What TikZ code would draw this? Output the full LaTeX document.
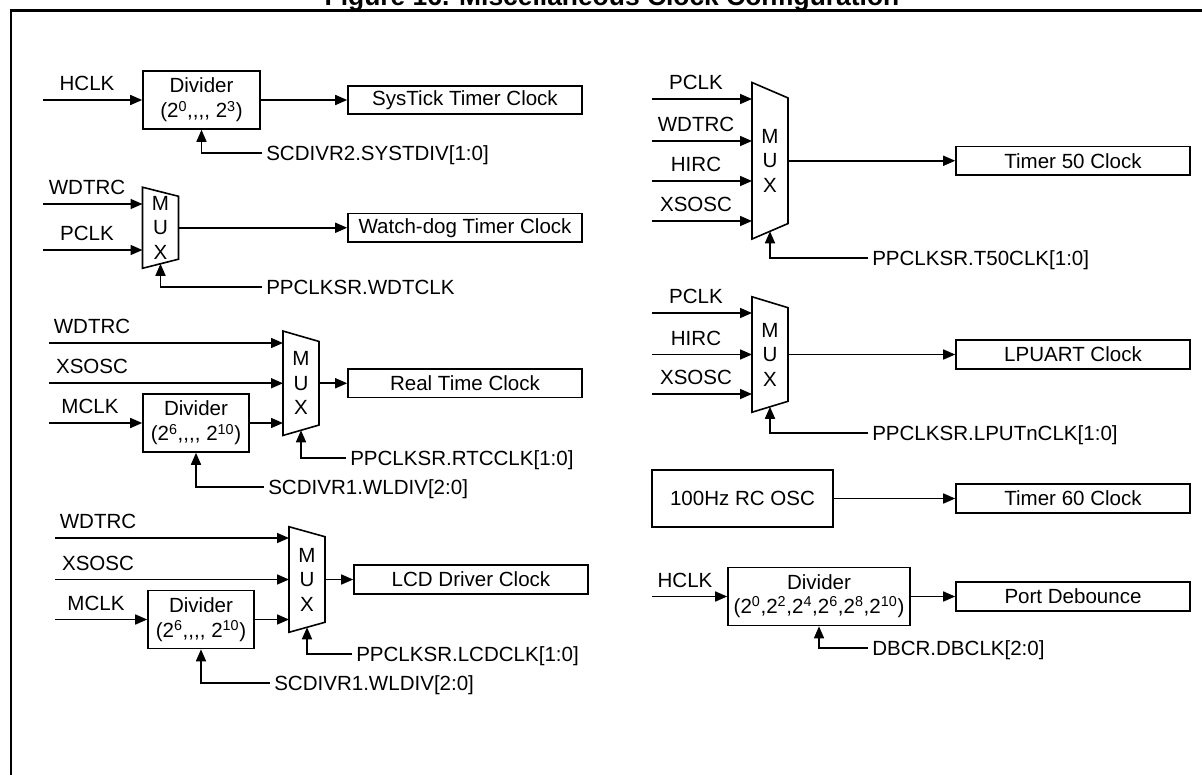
\documentclass[tikz,border=0pt]{standalone}
\usepackage{fontspec}
\setmainfont{Liberation Sans}
\usetikzlibrary{arrows.meta}

\newcommand{\clkfont}{\fontsize{15.4pt}{18.4pt}\selectfont}
\newcommand{\divfont}{\fontsize{15.4pt}{19pt}\selectfont}
% trapezoid outline round a mux node: #1 node, #2 half slant
\newcommand{\muxoutline}[2]{%
  \draw[wire] ([yshift=#2]#1.north west) -- ([yshift=-#2]#1.north east)
    -- ([yshift=#2]#1.south east) -- ([yshift=-#2]#1.south west) -- cycle;}

\tikzset{
  wire/.style={line width=1.2pt},
  sig/.style={wire, -{Triangle[length=9pt,width=7.5pt]}},
  block/.style={draw, line width=1.2pt, inner sep=0pt, align=center, font=\clkfont},
  outbox/.style={block, minimum width=175.5pt, minimum height=21.4pt},
  divbox/.style={block, font=\divfont, minimum height=43.5pt},
  muxnode/.style={inner sep=0pt, minimum width=26.6pt, align=center, font=\clkfont},
  inlabel/.style={anchor=base, inner sep=0pt, font=\clkfont},
  ctrllabel/.style={anchor=west, inner xsep=3pt, inner ysep=0pt,
    text height=11pt, text depth=0pt, font=\clkfont},
}

\begin{document}
\begin{tikzpicture}[x=0.75pt, y=-0.75pt]
  \useasboundingbox (0,0) rectangle (1202,774);
  \clip (0,0) rectangle (1202,774);

  % heading and frame
  \node[anchor=base, font=\fontsize{19.8pt}{22pt}\selectfont\bfseries] (title) at (612,6)
    {Figure 16. Miscellaneous Clock Configuration};
  \draw[line width=1.6pt] (10.7,780) -- (10.7,10.5) -- (1210,10.5);

  % SysTick timer
  \coordinate (hclkA) at (43,100);
  \node[inlabel] (lhclkA) at (87,90.5) {HCLK};
  \node[divbox, minimum width=87.75pt] (divA) at (201.5,100)
    {Divider\\(2\textsuperscript{0},{},{},{}, 2\textsuperscript{3})};
  \node[outbox] (systick) at (465,100) {SysTick Timer Clock};
  \node[ctrllabel] (cdivA) at (262,153) {SCDIVR2.SYSTDIV[1:0]};
  \draw[sig] (hclkA) -- (divA.west);
  \draw[sig] (divA.east) -- (systick.west);
  \draw[sig] (cdivA.west) -| (divA.south);

  % watch-dog timer
  \node[muxnode, minimum height=53.6pt] (muxW) at (160.5,227.75) {M\\U\\X};
  \muxoutline{muxW}{3.4pt}
  \node[outbox] (wdt) at (465,227.75) {Watch-dog Timer Clock};
  \foreach \y/\t [count=\i] in {204/WDTRC, 250/PCLK} {
    \coordinate (inW\i) at (43,\y);
    \node[inlabel] (linW\i) at (87,\y-9.5) {\t};
    \draw[sig] (inW\i) -- (inW\i -| muxW.west);
  }
  \node[ctrllabel] (cmuxW) at (262,287) {PPCLKSR.WDTCLK};
  \draw[sig] (muxW.east) -- (wdt.west);
  \draw[sig] (cmuxW.west) -| (muxW.south);

  % real time clock
  \node[muxnode, minimum height=70.1pt] (muxR) at (301,383.25) {M\\U\\X};
  \muxoutline{muxR}{3.9pt}
  \node[outbox] (rtc) at (465,383.25) {Real Time Clock};
  \foreach \y/\t [count=\i] in {343/WDTRC, 383.25/XSOSC} {
    \coordinate (inR\i) at (49,\y);
    \node[inlabel] (linR\i) at (92,\y-9.5) {\t};
    \draw[sig] (inR\i) -- (inR\i -| muxR.west);
  }
  \coordinate (mclkR) at (49,423);
  \node[inlabel] (lmclkR) at (90,413.5) {MCLK};
  \node[divbox, minimum width=79.5pt] (divR) at (196,423)
    {Divider\\(2\textsuperscript{6},{},{},{}, 2\textsuperscript{10})};
  \draw[sig] (mclkR) -- (divR.west);
  \draw[sig] (divR.east) -- (divR.east -| muxR.west);
  \draw[sig] (muxR.east) -- (rtc.west);
  \node[ctrllabel] (cmuxR) at (346,458) {PPCLKSR.RTCCLK[1:0]};
  \node[ctrllabel] (cdivR) at (264,487) {SCDIVR1.WLDIV[2:0]};
  \draw[sig] (cmuxR.west) -| (muxR.south);
  \draw[sig] (cdivR.west) -| (divR.south);

  % LCD driver
  \node[muxnode, minimum height=71.25pt] (muxL) at (307,579.5) {M\\U\\X};
  \muxoutline{muxL}{3.75pt}
  \node[outbox] (lcd) at (471,579.5) {LCD Driver Clock};
  \foreach \y/\t [count=\i] in {538/WDTRC, 579.5/XSOSC} {
    \coordinate (inL\i) at (55,\y);
    \node[inlabel] (linL\i) at (98,\y-9.5) {\t};
    \draw[sig] (inL\i) -- (inL\i -| muxL.west);
  }
  \coordinate (mclkL) at (55,619.5);
  \node[inlabel] (lmclkL) at (96,610) {MCLK};
  \node[divbox, minimum width=79.5pt] (divL) at (201,619.5)
    {Divider\\(2\textsuperscript{6},{},{},{}, 2\textsuperscript{10})};
  \draw[sig] (mclkL) -- (divL.west);
  \draw[sig] (divL.east) -- (divL.east -| muxL.west);
  \draw[sig] (muxL.east) -- (lcd.west);
  \node[ctrllabel] (cmuxL) at (352,654) {PPCLKSR.LCDCLK[1:0]};
  \node[ctrllabel] (cdivL) at (270,683) {SCDIVR1.WLDIV[2:0]};
  \draw[sig] (cmuxL.west) -| (muxL.south);
  \draw[sig] (cdivL.west) -| (divL.south);

  % timer 50
  \node[muxnode, minimum height=105.4pt] (muxT) at (770,160.75) {M\\U\\X};
  \muxoutline{muxT}{5.8pt}
  \node[outbox] (tmr50) at (1073,160.75) {Timer 50 Clock};
  \foreach \y/\t [count=\i] in {99/PCLK, 141/WDTRC, 181/HIRC, 221/XSOSC} {
    \coordinate (inT\i) at (652,\y);
    \node[inlabel] (linT\i) at (696,\y-9.5) {\t};
    \draw[sig] (inT\i) -- (inT\i -| muxT.west);
  }
  \node[ctrllabel] (cmuxT) at (868,258) {PPCLKSR.T50CLK[1:0]};
  \draw[sig] (muxT.east) -- (tmr50.west);
  \draw[sig] (cmuxT.west) -| (muxT.south);

  % LPUART
  \node[muxnode, minimum height=78pt] (muxU) at (770,354.5) {M\\U\\X};
  \muxoutline{muxU}{4.1pt}
  \node[outbox] (lpuart) at (1073,354.5) {LPUART Clock};
  \foreach \y/\t [count=\i] in {313/PCLK, 354.5/HIRC, 394/XSOSC} {
    \coordinate (inU\i) at (652,\y);
    \node[inlabel] (linU\i) at (696,\y-9.5) {\t};
    \draw[sig] (inU\i) -- (inU\i -| muxU.west);
  }
  \node[ctrllabel] (cmuxU) at (868,433) {PPCLKSR.LPUTnCLK[1:0]};
  \draw[sig] (muxU.east) -- (lpuart.west);
  \draw[sig] (cmuxU.west) -| (muxU.south);

  % timer 60
  \node[block, minimum width=135.75pt, minimum height=42.75pt] (rcosc) at (742.5,498.5) {100Hz RC OSC};
  \node[outbox] (tmr60) at (1073,498.5) {Timer 60 Clock};
  \draw[sig] (rcosc.east) -- (tmr60.west);

  % port debounce
  \coordinate (hclkP) at (652,596.5);
  \node[inlabel] (lhclkP) at (685,587) {HCLK};
  \node[divbox, font=\fontsize{15.4pt}{18pt}\selectfont, minimum width=136.5pt] (divP) at (819,596.5)
    {Divider\\(2\textsuperscript{0},2\textsuperscript{2},2\textsuperscript{4},2\textsuperscript{6},2\textsuperscript{8},2\textsuperscript{10})};
  \node[outbox] (debounce) at (1073,596.5) {Port Debounce};
  \node[ctrllabel] (cdivP) at (868,648) {DBCR.DBCLK[2:0]};
  \draw[sig] (hclkP) -- (divP.west);
  \draw[sig] (divP.east) -- (debounce.west);
  \draw[sig] (cdivP.west) -| (divP.south);
\end{tikzpicture}
\end{document}
